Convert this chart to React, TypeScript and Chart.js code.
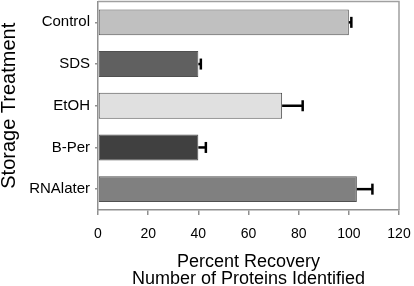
import React, { useEffect, useRef } from "react";
import { Chart, registerables } from "chart.js";

Chart.register(...registerables);

const categories = ["Control", "SDS", "EtOH", "B-Per", "RNAlater"];
const recovery = [100, 40, 73.4, 40, 103.2];
const errors = [1, 1, 8.2, 3, 6.2];
const barColors = ["#c0c0c0", "#606060", "#e0e0e0", "#404040", "#808080"];
const xTicks = [0, 20, 40, 60, 80, 100, 120];

const errorBarPlugin = {
  id: "errorBars",
  afterDatasetsDraw(chart: any) {
    const ctx = chart.ctx;
    const meta = chart.getDatasetMeta(0);
    const xs = chart.scales.x;
    ctx.save();
    ctx.strokeStyle = "#000000";
    ctx.lineWidth = 2.5;
    meta.data.forEach((bar: any, i: number) => {
      const v = recovery[i];
      const e = errors[i];
      const x0 = xs.getPixelForValue(v);
      const x1 = xs.getPixelForValue(v + e);
      const y = bar.y;
      ctx.beginPath();
      ctx.moveTo(x0, y);
      ctx.lineTo(x1, y);
      ctx.stroke();
      ctx.beginPath();
      ctx.moveTo(x1, y - 5.5);
      ctx.lineTo(x1, y + 5.5);
      ctx.stroke();
    });
    ctx.restore();
  },
};

const framePlugin = {
  id: "frame",
  beforeDatasetsDraw(chart: any) {
    const { ctx, chartArea } = chart;
    ctx.save();
    ctx.strokeStyle = "#a0a0a0";
    ctx.lineWidth = 1.5;
    ctx.beginPath();
    ctx.moveTo(chartArea.left, chartArea.top);
    ctx.lineTo(chartArea.right, chartArea.top);
    ctx.lineTo(chartArea.right, chartArea.bottom);
    ctx.stroke();
    ctx.restore();
  },
};

export default function App() {
  const ref = useRef<HTMLCanvasElement>(null);
  useEffect(() => {
    document.body.style.margin = "0";
    const chart = new Chart(ref.current as HTMLCanvasElement, {
      type: "bar",
      data: {
        labels: categories,
        datasets: [
          {
            data: recovery,
            backgroundColor: barColors,
            borderColor: "#505050",
            borderWidth: 1,
            borderSkipped: false,
            barPercentage: 0.62,
            categoryPercentage: 1,
          },
        ],
      },
      options: {
        indexAxis: "y",
        animation: false,
        responsive: false,
        maintainAspectRatio: false,
        layout: { padding: { top: 1.5, right: 15, left: 0, bottom: 0 } },
        plugins: { legend: { display: false }, tooltip: { enabled: false } },
        scales: {
          x: {
            min: 0,
            max: 120,
            afterBuildTicks(scale: any) {
              scale.ticks = xTicks.map((v) => ({ value: v }));
            },
            afterFit(scale: any) {
              scale.height = 76;
              scale.paddingLeft = 0;
              scale.paddingRight = 0;
            },
            border: { display: true, color: "#909090", width: 1.5 },
            grid: {
              display: true,
              drawOnChartArea: false,
              drawTicks: true,
              tickLength: 5,
              color: "#909090",
              lineWidth: 1.5,
            },
            ticks: {
              color: "#000000",
              padding: 11,
              font: { family: "Liberation Sans, Arial, sans-serif", size: 14 },
            },
            title: {
              display: true,
              text: ["Percent Recovery", "Number of Proteins Identified"],
              color: "#000000",
              padding: { top: 0, bottom: -2 },
              font: {
                family: "Liberation Sans, Arial, sans-serif",
                size: 18,
                lineHeight: 0.95,
              },
            },
          },
          y: {
            afterFit(scale: any) {
              scale.width = 98;
              scale.paddingTop = 0;
              scale.paddingBottom = 0;
            },
            border: { display: true, color: "#909090", width: 1.5 },
            grid: {
              display: true,
              offset: false,
              drawOnChartArea: false,
              drawTicks: true,
              tickLength: 3,
              color: "#909090",
              lineWidth: 1.5,
            },
            ticks: {
              color: "#000000",
              padding: 5,
              font: { family: "Liberation Sans, Arial, sans-serif", size: 15 },
            },
            title: {
              display: true,
              text: "Storage Treatment",
              color: "#000000",
              padding: 0,
              font: {
                family: "Liberation Sans, Arial, sans-serif",
                size: 20,
                lineHeight: 0.95,
              },
            },
          },
        },
      },
      plugins: [framePlugin, errorBarPlugin],
    });
    return () => chart.destroy();
  }, []);
  return (
    <div style={{ width: 414, height: 286 }}>
      <canvas ref={ref} width={414} height={286} />
    </div>
  );
}
